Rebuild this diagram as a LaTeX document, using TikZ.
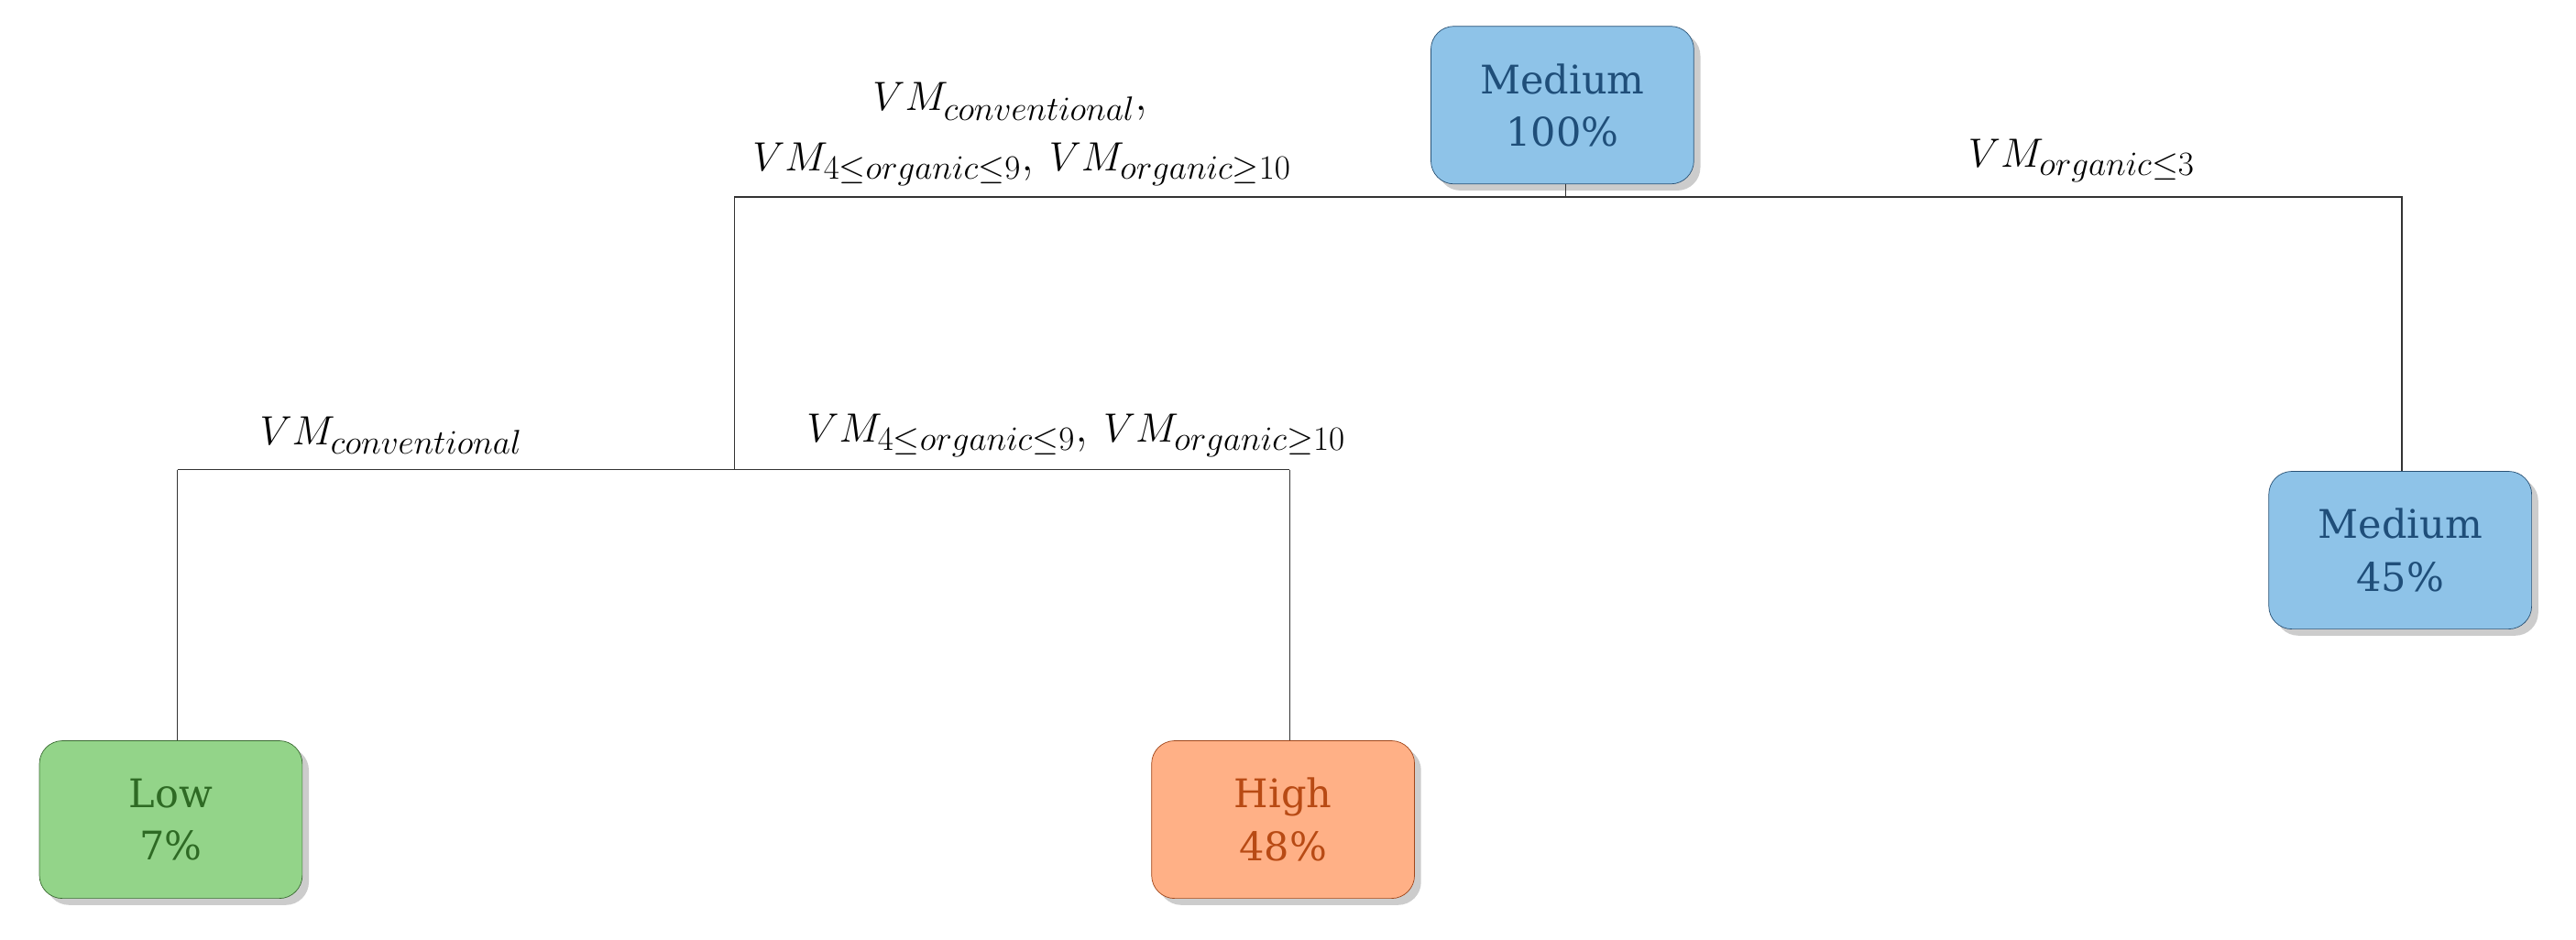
\documentclass[tikz,border=0pt]{standalone}
\usepackage{fontspec}
\newfontfamily\boxfont{DejaVu Serif}
\usetikzlibrary{shadows}
\begin{document}
\begin{tikzpicture}[x=1pt,y=-1pt,
 box/.style={draw,rounded corners=14pt,minimum width=160pt,minimum height=96pt,align=center,font=\boxfont\fontsize{24}{32}\selectfont,drop shadow={shadow xshift=4pt,shadow yshift=-4pt,opacity=0.4}},
 bluebox/.style={box,fill=blueF,draw=blueD,text=blueT},
 lbl/.style={font=\fontsize{31}{34}\selectfont},
 ln/.style={draw=black!80,line width=0.8pt}]
\definecolor{blueF}{HTML}{8EC3E8}\definecolor{blueD}{HTML}{2A5275}\definecolor{blueT}{HTML}{1F4E79}
\definecolor{greenF}{HTML}{93D489}\definecolor{greenD}{HTML}{3A6B32}\definecolor{greenT}{HTML}{2E6A24}
\definecolor{orF}{HTML}{FFB086}\definecolor{orD}{HTML}{A0461A}\definecolor{orT}{HTML}{B84A14}
\useasboundingbox (0,0) rectangle (1568,572);
\node[bluebox] (top) at (951,64) {Medium\\100\%};
\node[bluebox] (right) at (1461,335) {Medium\\45\%};
\node[box,fill=greenF,draw=greenD,text=greenT] (low) at (104,499) {Low\\7\%};
\node[box,fill=orF,draw=orD,text=orT] (high) at (781,499) {High\\48\%};
\coordinate (t) at (953,120);
\coordinate (l1) at (447,120);
\coordinate (r1) at (1462,120);
\coordinate (m) at (447,286);
\coordinate (a) at (108,286);
\coordinate (b) at (785,286);
\draw[ln] (953,112) -- (t);
\draw[ln] (l1) -- (r1) -- (right.north -| r1);
\draw[ln] (l1) -- (m);
\draw[ln] (a) -- (b);
\draw[ln] (a) -- (low.north -| a);
\draw[ln] (b) -- (high.north -| b);
\node[lbl] (L1) at (615,62) {$VM_{conventional}$,};
\node[lbl] (L2) at (622,100) {$VM_{4\leq organic\leq 9}$, $VM_{organic\geq 10}$};
\node[lbl] (L3) at (1267,98) {$VM_{organic\leq 3}$};
\node[lbl] (L4) at (238,265) {$VM_{conventional}$};
\node[lbl] (L5) at (655,265) {$VM_{4\leq organic\leq 9}$, $VM_{organic\geq 10}$};
\end{tikzpicture}
\end{document}
